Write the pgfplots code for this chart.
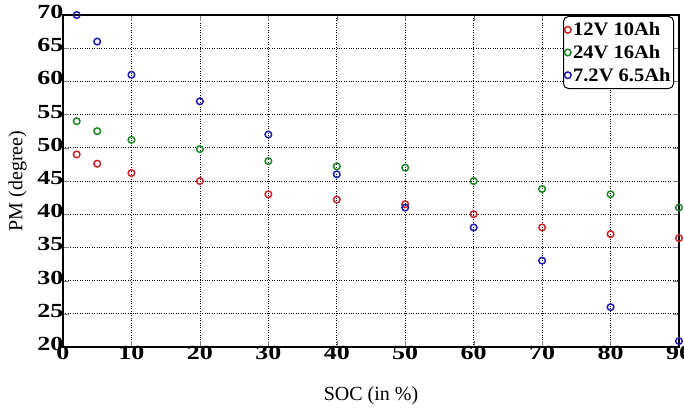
\documentclass[border=0pt]{standalone}
\usepackage{fontspec}
\setmainfont{Liberation Serif}
\newfontfamily\tickfont[FakeStretch=1.3]{Liberation Serif}
\newfontfamily\legfont[FakeStretch=1.08]{Liberation Serif}
\usepackage{pgfplots}
\pgfplotsset{compat=1.18}

\definecolor{cred}{RGB}{205,35,40}
\definecolor{cgreen}{RGB}{30,135,40}
\definecolor{cblue}{RGB}{30,30,175}

\begin{document}
\begin{tikzpicture}
\begin{axis}[
    scale only axis,
    width=616pt, height=332pt,
    xmin=0, xmax=90, ymin=20, ymax=70,
    xtick={0,10,...,90},
    ytick={20,25,...,70},
    tick align=inside,
    major tick length=6pt,
    axis line style={line width=1.5pt},
    grid=major,
    grid style={dotted, black, line width=0.7pt},
    /pgf/number format/assume math mode=true,
    tick label style={font=\tickfont\bfseries\fontsize{20}{20}\selectfont},
    xticklabel style={yshift=4pt},
    yticklabel style={xshift=4pt, yshift=3pt},
    xlabel={SOC (in \%)},
    ylabel={PM (degree)},
    label style={font=\fontsize{20}{20}\selectfont},
    xlabel style={yshift=-20pt},
    ylabel style={yshift=4pt},
    legend style={at={(rel axis cs:0.992,0.997)}, anchor=north east,
        font=\legfont\bfseries\fontsize{19}{21}\selectfont,
        rounded corners=5pt, draw=black, line width=1pt,
        inner xsep=1pt, inner ysep=4pt, row sep=4pt},
    legend cell align=left,
    every axis plot/.append style={only marks, mark=o, mark size=3.3pt, line width=1.5pt},
]
\addplot[cred] coordinates {
    (2,49) (5,47.6) (10,46.2) (20,45) (30,43) (40,42.2) (50,41.5)
    (60,40) (70,38) (80,37) (90,36.4)
};
\addlegendentry{12V 10Ah}
\addplot[cgreen] coordinates {
    (2,54) (5,52.5) (10,51.2) (20,49.8) (30,48) (40,47.2) (50,47)
    (60,45) (70,43.8) (80,43) (90,41)
};
\addlegendentry{24V 16Ah}
\addplot[cblue] coordinates {
    (2,70) (5,66) (10,61) (20,57) (30,52) (40,46) (50,41)
    (60,38) (70,33) (80,26) (90,20.9)
};
\addlegendentry{7.2V 6.5Ah}
\end{axis}
% crop to the reference's margins (the "90" label runs off the right edge there)
\pgfresetboundingbox
\useasboundingbox ([shift={(-63pt,-64pt)}]current axis.south west)
    rectangle ([shift={(5pt,15pt)}]current axis.north east);
\end{tikzpicture}
\end{document}
